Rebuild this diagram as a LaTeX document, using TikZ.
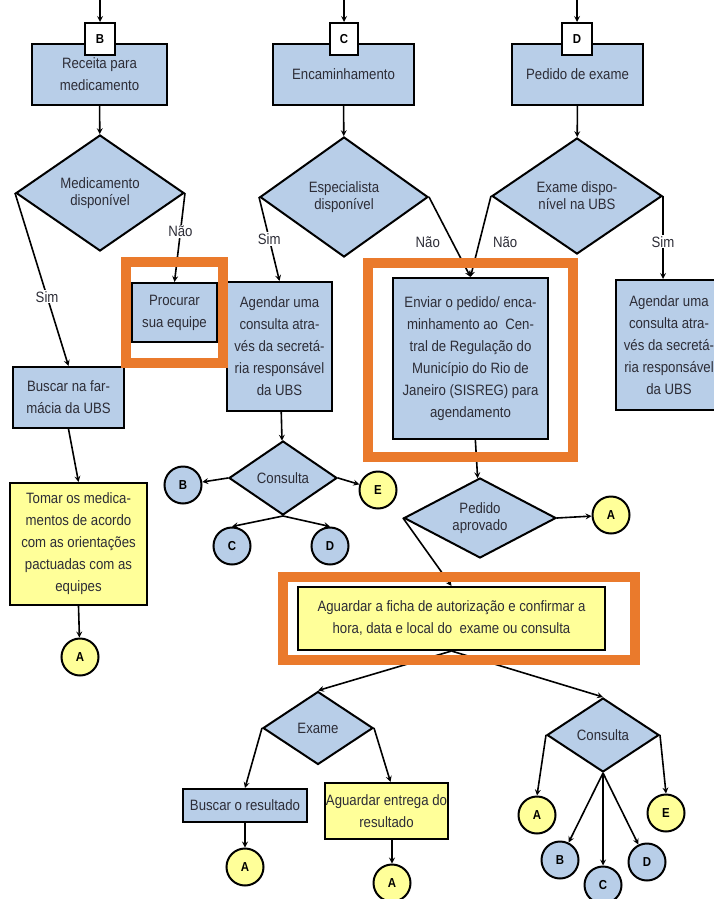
\documentclass[tikz,border=0pt]{standalone}
\usepackage{fontspec}
\setmainfont{Liberation Sans}[FakeStretch=0.88]
\usepackage{tikz}
\usetikzlibrary{shapes.geometric, arrows, positioning}
\definecolor{boxblue}{RGB}{184,206,232}
\definecolor{boxyellow}{RGB}{255,255,153}
\definecolor{markorange}{RGB}{234,122,44}
\definecolor{inkgray}{RGB}{45,45,55}
\tikzstyle{process} = [rectangle, draw=black, line width=2pt, fill=boxblue, align=center, text=inkgray, inner sep=0pt, font=\fontsize{15}{22}\selectfont]
\tikzstyle{waitbox} = [process, fill=boxyellow]
\tikzstyle{decision} = [diamond, aspect=2, draw=black, line width=2pt, fill=boxblue, align=center, text=inkgray, inner sep=0pt, font=\fontsize{15}{17}\selectfont]
\tikzstyle{connector} = [circle, draw=black, line width=2pt, fill=boxblue, minimum size=37pt, inner sep=0pt, font=\bfseries\fontsize{13}{13}\selectfont]
\tikzstyle{connectorY} = [connector, fill=boxyellow]
\tikzstyle{letterbox} = [rectangle, draw=black, line width=2pt, fill=white, minimum width=30pt, minimum height=32pt, font=\bfseries\fontsize{13}{13}\selectfont]
\tikzstyle{arrowline} = [line width=1.6pt, ->, >=stealth]
\tikzstyle{answer} = [text=inkgray, inner sep=1pt, font=\fontsize{15}{15}\selectfont]
\tikzstyle{highlight} = [draw=markorange, line width=10pt]

\begin{document}
\begin{tikzpicture}[x=1pt, y=-1pt]
    \useasboundingbox (0,0) rectangle (713,899);

    % Nodes
    \coordinate (inB) at (100,0);
    \coordinate (inC) at (344,0);
    \coordinate (inD) at (577,0);

    \node (receita) [process, minimum width=135pt, minimum height=61pt] at (99.5,74.5) {Receita para\\medicamento};
    \node (encam) [process, minimum width=141pt, minimum height=61pt] at (343.5,74.5) {Encaminhamento};
    \node (pedExame) [process, minimum width=131pt, minimum height=61pt] at (577.5,74.5) {Pedido de exame};

    \node (tagB) [letterbox] at (100,39) {B};
    \node (tagC) [letterbox, minimum width=28pt] at (344,39) {C};
    \node (tagD) [letterbox] at (577,39) {D};

    \node (medDisp) [decision, minimum width=168pt, minimum height=116pt] at (100,193) {Medicamento\\disponível};
    \node (espDisp) [decision, minimum width=168pt, minimum height=120pt] at (344,197) {Especialista\\disponível};
    \node (exaDisp) [decision, minimum width=170pt, minimum height=116pt] at (577,196) {Exame dispo-\\nível na UBS};

    \node (procurar) [process, minimum width=85pt, minimum height=59pt] at (174.5,312.5) {Procurar\\sua equipe};
    \node (buscarFarm) [process, minimum width=111pt, minimum height=61pt] at (68.5,397.5) {Buscar na far-\\mácia da UBS};
    \node (tomar) [waitbox, minimum width=137pt, minimum height=122pt] at (78.5,544) {Tomar os medica-\\mentos de acordo\\com as orientações\\pactuadas com as\\equipes};
    \node (aTomar) [connectorY] at (80,657) {A};

    \node (agendarUBS) [process, minimum width=105pt, minimum height=129pt] at (279.5,346.5) {Agendar uma\\consulta atra-\\vés da secretá-\\ria responsável\\da UBS};
    \node (consultaA) [decision, minimum width=108pt, minimum height=74pt] at (283,478) {Consulta};
    \node (bConsA) [connector] at (183,485) {B};
    \node (eConsA) [connectorY] at (378,490) {E};
    \node (cConsA) [connector] at (232,546) {C};
    \node (dConsA) [connector] at (330,546) {D};

    \node (enviar) [process, minimum width=155pt, minimum height=161pt] at (470.5,358.5) {Enviar o pedido/ enca-\\minhamento ao~~Cen-\\tral de Regulação do\\Município do Rio de\\Janeiro (SISREG) para\\agendamento};
    \node (agendarExa) [process, minimum width=106pt, minimum height=130pt] at (669,345) {Agendar uma\\consulta atra-\\vés da secretá-\\ria responsável\\da UBS};

    \node (pedido) [decision, minimum width=152pt, minimum height=80pt] at (480,518) {Pedido\\aprovado};
    \node (aPedido) [connectorY] at (611,515) {A};

    \node (aguardar) [waitbox, minimum width=307pt, minimum height=63pt] at (451.5,618.5) {Aguardar a ficha de autorização e confirmar a\\hora, data e local do~~exame ou consulta};

    \node (exame) [decision, minimum width=110pt, minimum height=73pt] at (318,728) {Exame};
    \node (buscarRes) [process, minimum width=124pt, minimum height=33pt] at (245,805.5) {Buscar o resultado};
    \node (aBuscar) [connectorY] at (245,867) {A};
    \node (entrega) [waitbox, minimum width=123pt, minimum height=56pt] at (386.5,811) {Aguardar entrega do\\resultado};
    \node (aEntrega) [connectorY] at (392,883) {A};

    \node (consultaB) [decision, minimum width=112pt, minimum height=74pt] at (603,735) {Consulta};
    \node (aConsB) [connectorY] at (537,815) {A};
    \node (eConsB) [connectorY] at (666,813) {E};
    \node (bConsB) [connector] at (560,860) {B};
    \node (cConsB) [connector] at (603,885) {C};
    \node (dConsB) [connector] at (647,862) {D};

    % Edges
    \draw [arrowline] (inB) -- (tagB);
    \draw [arrowline] (inC) -- (tagC);
    \draw [arrowline] (inD) -- (tagD);
    \draw [arrowline] (receita) -- (medDisp);
    \draw [arrowline] (encam) -- (espDisp);
    \draw [arrowline] (pedExame) -- (exaDisp);

    \draw [arrowline] (medDisp.west) -- node[answer, fill=white, pos=0.6] {Sim} (buscarFarm.north);
    \draw [arrowline] (medDisp.east) -- node[answer, fill=white, pos=0.43] {Não} (procurar.north);
    \draw [arrowline] (buscarFarm.south) -- (tomar.north);
    \draw [arrowline] (tomar.south) -- (aTomar);

    \draw [arrowline] (espDisp.west) -- node[answer, fill=white, pos=0.5] {Sim} (agendarUBS.north);
    \draw [arrowline] (espDisp.east) -- node[answer, pos=0.57, left=11pt] {Não} (enviar.north);
    \draw [arrowline] (exaDisp.west) -- node[answer, pos=0.57, right=12pt] {Não} (enviar.north);
    \draw [arrowline] (exaDisp.east) -- node[answer, fill=white, pos=0.55] {Sim} ([xshift=-6pt]agendarExa.north);

    \draw [arrowline] (agendarUBS) -- (consultaA);
    \draw [arrowline] (consultaA.west) -- (bConsA);
    \draw [arrowline] (consultaA.east) -- (eConsA);
    \draw [arrowline] (consultaA.south) -- (cConsA.north);
    \draw [arrowline] (consultaA.south) -- (dConsA.north);

    \draw [arrowline] (enviar) -- (pedido);
    \draw [arrowline] (pedido.east) -- (aPedido);
    \draw [arrowline] (pedido.west) -- (aguardar.north);
    \draw [arrowline] (aguardar.south) -- (exame.north);
    \draw [arrowline] (aguardar.south) -- (consultaB.north);

    \draw [arrowline] (exame.west) -- (buscarRes.north);
    \draw [arrowline] (exame.east) -- ([xshift=4pt]entrega.north);
    \draw [arrowline] (buscarRes) -- (aBuscar);
    \draw [arrowline] ([xshift=5.5pt]entrega.south) -- (aEntrega);

    \draw [arrowline] (consultaB.west) -- (aConsB.north);
    \draw [arrowline] (consultaB.east) -- (eConsB.north);
    \draw [arrowline] (consultaB.south) -- (bConsB);
    \draw [arrowline] (consultaB.south) -- (cConsB);
    \draw [arrowline] (consultaB.south) -- (dConsB);

    % orange marks around the steps
    \draw [highlight] (126,262) rectangle (223,363);
    \draw [highlight] (368,263) rectangle (573,457);
    \draw [highlight] (283,577) rectangle (635,660);
\end{tikzpicture}
\end{document}
